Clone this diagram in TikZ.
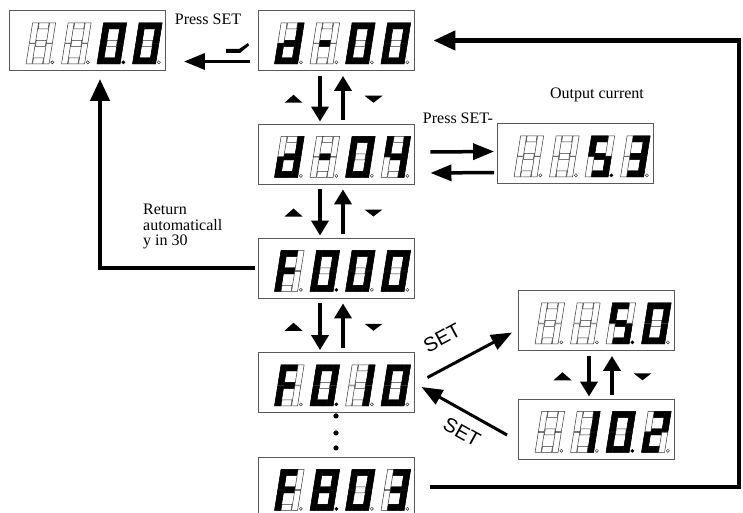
\documentclass[tikz,border=0pt]{standalone}
\usepackage{fontspec}
\setmainfont{Liberation Serif}
\newfontfamily\setsans{Liberation Sans}
\usepackage{tikz}
\usetikzlibrary{arrows.meta,calc}

% seven segment pieces (local units, y up, leaning right)
\def\slnt{0.16}
\newcommand{\segbox}[4]{(#1+\slnt*#2,#2) -- (#3+\slnt*#2,#2) -- (#3+\slnt*#4,#4) -- (#1+\slnt*#4,#4) -- cycle}
\def\segpa{\segbox{6.5}{35}{16.5}{41}}
\def\segpb{\segbox{17}{20.8}{23}{41}}
\def\segpc{\segbox{17}{0}{23}{20.2}}
\def\segpd{\segbox{6.5}{0}{16.5}{6}}
\def\segpe{\segbox{0}{0}{6}{20.2}}
\def\segpf{\segbox{0}{20.8}{6}{41}}
\def\segpg{\segbox{6.5}{17.5}{16.5}{23.5}}
\newcommand{\dgzero}{a,b,c,d,e,f}
\newcommand{\dgone}{b,c}
\newcommand{\dgtwo}{a,b,g,e,d}
\newcommand{\dgthree}{a,b,g,c,d}
\newcommand{\dgfour}{f,g,b,c}
\newcommand{\dgfive}{a,f,g,c,d}
\newcommand{\dgeight}{a,b,c,d,e,f,g}
\newcommand{\dgd}{b,c,d,e,g}
\newcommand{\dgF}{a,f,g,e}
\newcommand{\dgdash}{g}
\newcommand{\segdraw}[2]{\ifx#2\empty\else
  \expandafter\let\expandafter\segcur\csname segp#2\endcsname
  \path[#1] \segcur;\fi}
% #1 box, #2 place 0-3, #3 lit segments, #4 place of lit point
\newcommand{\ssdigit}[4]{%
  \begin{scope}[shift={(#1.south west)}, shift={(17+35.5*#2,-7)}, yscale=-1]
    \foreach \s in {a,b,c,d,e,f,g} {\segdraw{segoff}{\s}}
    \edef\seglist{#3}
    \foreach \s in \seglist {\segdraw{segon}{\s}}
    \ifnum#2=#4 \path[segon] (26.3,1.6) circle[radius=1.6pt];
    \else \path[segoff] (26.3,1.6) circle[radius=1.6pt];\fi
  \end{scope}}
\newcommand{\ssdisp}[6]{%
  \ssdigit{#1}{0}{#2}{#6}\ssdigit{#1}{1}{#3}{#6}%
  \ssdigit{#1}{2}{#4}{#6}\ssdigit{#1}{3}{#5}{#6}}
% up/down keys between two boxes
\newcommand{\updown}[3]{%
  \coordinate (ud) at ($(#1.south)!0.5!(#2.north)+(#3,0)$);
  \coordinate (udt) at (ud |- #1.south);
  \coordinate (udb) at (ud |- #2.north);
  \draw[navarrow] ([xshift=-11.5pt,yshift=-5pt]udt) -- ([xshift=-11.5pt,yshift=2pt]udb);
  \draw[navarrow] ([xshift=11.5pt,yshift=4pt]udb) -- ([xshift=11.5pt,yshift=-5pt]udt);
  \fill ([xshift=-47pt,yshift=-5.5pt]ud) -- ([xshift=-29pt,yshift=-5.5pt]ud) -- ([xshift=-38pt,yshift=2.5pt]ud) -- cycle;
  \fill ([xshift=33pt,yshift=1.5pt]ud) -- ([xshift=51pt,yshift=1.5pt]ud) -- ([xshift=42pt,yshift=-5.5pt]ud) -- cycle;}

\begin{document}
\begin{tikzpicture}[x=1pt, y=-1pt,
  font=\fontsize{16}{15.5}\selectfont,
  disp/.style={draw=black!65, line width=0.9pt, minimum width=156pt, minimum height=60pt, inner sep=0pt},
  segoff/.style={draw=black!80, line width=0.5pt, fill=white},
  segon/.style={draw=black, line width=0.5pt, fill=black},
  retline/.style={line width=4.5pt, -{Triangle[length=22pt,width=19pt]}},
  navarrow/.style={line width=4.5pt, -{Triangle[length=15pt,width=17pt]}},
  swarrow/.style={line width=3.5pt, -{Triangle[length=21pt,width=16pt]}},
  setarrow/.style={line width=3pt, -{Triangle[length=21pt,width=16pt]}},
  setlbl/.style={font=\setsans\fontsize{20}{20}\selectfont, inner sep=0pt}]
  \useasboundingbox (0,0) rectangle (743,513);
  % display boxes
  \node[disp] (dA) at (87.5,40.5) {};
  \node[disp] (dB) at (336,40.5) {};
  \node[disp] (dC) at (336,154) {};
  \node[disp] (dD) at (575.5,153.5) {};
  \node[disp] (dE) at (336,268) {};
  \node[disp] (dF) at (336,382.5) {};
  \node[disp] (dG) at (336,487) {};
  \node[disp] (dH) at (596.5,320.5) {};
  \node[disp] (dI) at (596.5,429) {};
  % digits
  \ssdisp{dA}{}{}{\dgzero}{\dgzero}{2}
  \ssdisp{dB}{\dgd}{\dgdash}{\dgzero}{\dgzero}{9}
  \ssdisp{dC}{\dgd}{\dgdash}{\dgzero}{\dgfour}{9}
  \ssdisp{dD}{}{}{\dgfive}{\dgthree}{2}
  \ssdisp{dE}{\dgF}{\dgzero}{\dgzero}{\dgzero}{1}
  \ssdisp{dF}{\dgF}{\dgzero}{\dgone}{\dgzero}{1}
  \ssdisp{dG}{\dgF}{\dgeight}{\dgzero}{\dgthree}{1}
  \ssdisp{dH}{}{}{\dgfive}{\dgzero}{2}
  \ssdisp{dI}{}{\dgone}{\dgzero}{\dgtwo}{2}
  % labels
  \node (pset1) at (208,19) {Press SET};
  \node (pset2) at (458,118) {Press SET-};
  \node (outcur) at (597,95) {Output current};
  \node[align=left, anchor=north west, inner sep=0pt] (retmsg) at (143,204) {Return\\automaticall\\y in 30};
  % enter / leave
  \draw[swarrow] ([xshift=-8pt,yshift=-21pt]dB.west) -- ([xshift=18pt,yshift=-21pt]dA.east);
  \fill (226,49) -- (239,49) -- (248,43) -- (249,45.5) -- (240,53) -- (226,53) -- cycle;
  \draw[swarrow] ([xshift=16pt,yshift=2pt]dC.east) -- ([xshift=-3pt,yshift=2pt]dD.west);
  \draw[swarrow] ([xshift=-3pt,yshift=-19pt]dD.west) -- ([xshift=16pt,yshift=-19pt]dC.east);
  % up / down keys
  \updown{dB}{dC}{-4.5}
  \updown{dC}{dE}{-4.5}
  \updown{dE}{dF}{-4.5}
  \updown{dH}{dI}{4}
  \foreach \dy in {-3,-20,-35} {\fill ([yshift=\dy pt]dF.south) circle[radius=2.6pt];}
  % SET
  \draw[setarrow] ([xshift=13pt,yshift=5pt]dF.east) -- ([xshift=-6pt,yshift=-12pt]dH.west);
  \draw[setarrow] ([xshift=-11pt,yshift=-6pt]dI.west) -- ([xshift=7pt,yshift=-4.5pt]dF.east);
  \node[setlbl, rotate=28] (set1) at (442,338) {SET};
  \node[setlbl, rotate=-29] (set2) at (462,432) {SET};
  % returns
  \coordinate (rc) at (739,0);
  \draw[retline] ([xshift=16pt]dG.east) -- (dG.east -| rc) -- (dB.east -| rc) -- ([xshift=19pt]dB.east);
  \coordinate (lc) at (100,0);
  \coordinate (la) at (100,79);
  \draw[retline] ([xshift=-3pt]dE.west) -- (dE.west -| lc) -- (la);
\end{tikzpicture}
\end{document}
